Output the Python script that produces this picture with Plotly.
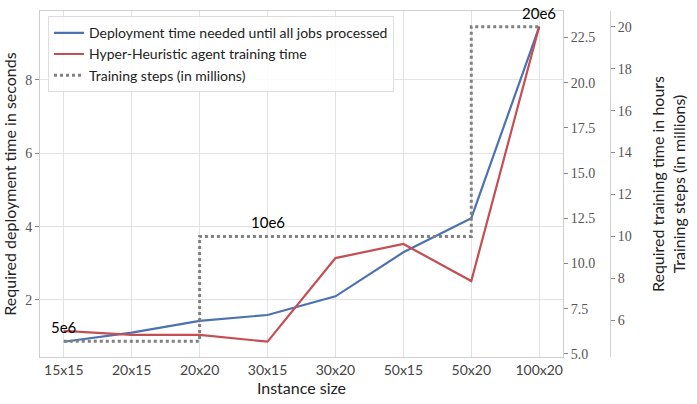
import plotly.graph_objects as go

categories = ["15x15", "20x15", "20x20", "30x15", "30x20", "50x15", "50x20", "100x20"]
deployment_seconds = [0.86, 1.11, 1.43, 1.59, 2.10, 3.30, 4.23, 9.45]
training_hours = [6.27, 6.05, 6.05, 5.68, 10.3, 11.08, 9.03, 23.1]
training_steps = [5, 5, 5, 10, 10, 10, 10, 20]
step_labels = ["5e6", "10e6", "20e6"]
step_label_idx = [0, 3, 7]

SANS = "Lato"
SERIF = "Liberation Serif"
GRID = "#e3e3e3"
SPINE = "#cfcfcf"

fig = go.Figure()
fig.add_trace(go.Scatter(x=categories, y=deployment_seconds, mode="lines",
                         name="Deployment time needed until all jobs processed",
                         line=dict(color="#4C72B0", width=2.2), yaxis="y"))
fig.add_trace(go.Scatter(x=categories, y=training_hours, mode="lines",
                         name="Hyper-Heuristic agent training time",
                         line=dict(color="#C44E52", width=2.2), yaxis="y2"))
fig.add_trace(go.Scatter(x=categories, y=training_steps, mode="lines",
                         name="Training steps (in millions)",
                         line=dict(color="#808080", width=3, dash="dot", shape="vh"),
                         yaxis="y3"))

for i, lab in zip(step_label_idx, step_labels):
    fig.add_annotation(x=categories[i], y=training_steps[i], xref="x", yref="y3",
                       text=lab, showarrow=False, yanchor="bottom", yshift=3,
                       font=dict(family=SANS, size=15, color="black"))

fig.update_layout(
    width=697, height=404,
    margin=dict(l=40, r=87, t=11, b=47, autoexpand=False),
    plot_bgcolor="white", paper_bgcolor="white",
    showlegend=True,
    legend=dict(x=0.014, y=0.985, xanchor="left", yanchor="top",
                bgcolor="rgba(255,255,255,0.85)", bordercolor="#dddddd", borderwidth=1,
                font=dict(family=SANS, size=14, color="#222222")),
    xaxis=dict(domain=[0, 0.9175], type="category", range=[-0.35, 7.35], automargin=False,
               showgrid=True, gridcolor=GRID, gridwidth=1,
               showline=True, linecolor=SPINE, mirror=True, linewidth=1,
               ticks="", tickfont=dict(family=SANS, size=14, color="#444444"),
               title=dict(text="Instance size", font=dict(family=SANS, size=16, color="#222222"), standoff=4)),
    yaxis=dict(range=[0.445, 9.88], tickvals=[2, 4, 6, 8], automargin=False,
               showgrid=True, gridcolor=GRID, gridwidth=1, zeroline=False,
               showline=True, linecolor=SPINE, mirror=True, linewidth=1,
               ticks="outside", ticklen=4, tickcolor="#888888",
               tickfont=dict(family=SERIF, size=14, color="#555555"),
               title=dict(text="Required deployment time in seconds",
                          font=dict(family=SANS, size=16, color="#222222"), standoff=8)),
    yaxis2=dict(range=[4.83, 23.96], tickvals=[5, 7.5, 10, 12.5, 15, 17.5, 20, 22.5],
                ticktext=["5.0", "7.5", "10.0", "12.5", "15.0", "17.5", "20.0", "22.5"],
                overlaying="y", side="right", anchor="x", automargin=False,
                showgrid=False, zeroline=False, showline=False,
                ticks="outside", ticklen=4, tickcolor="#888888",
                tickfont=dict(family=SERIF, size=14, color="#555555")),
    yaxis3=dict(range=[4.25, 20.75], tickvals=[6, 8, 10, 12, 14, 16, 18, 20],
                overlaying="y", side="right", anchor="free", position=1.0, automargin=False,
                showgrid=False, zeroline=False, showline=True, linecolor=SPINE, linewidth=1,
                ticks="outside", ticklen=4, tickcolor="#888888",
                tickfont=dict(family=SERIF, size=14, color="#555555"),
                title=dict(text="Required training time in hours<br>Training steps (in millions)",
                           font=dict(family=SANS, size=16, color="#222222"), standoff=22)),
)

fig.write_html("out.html", config={"displayModeBar": False},
               post_script="document.body.style.margin='0px';")
